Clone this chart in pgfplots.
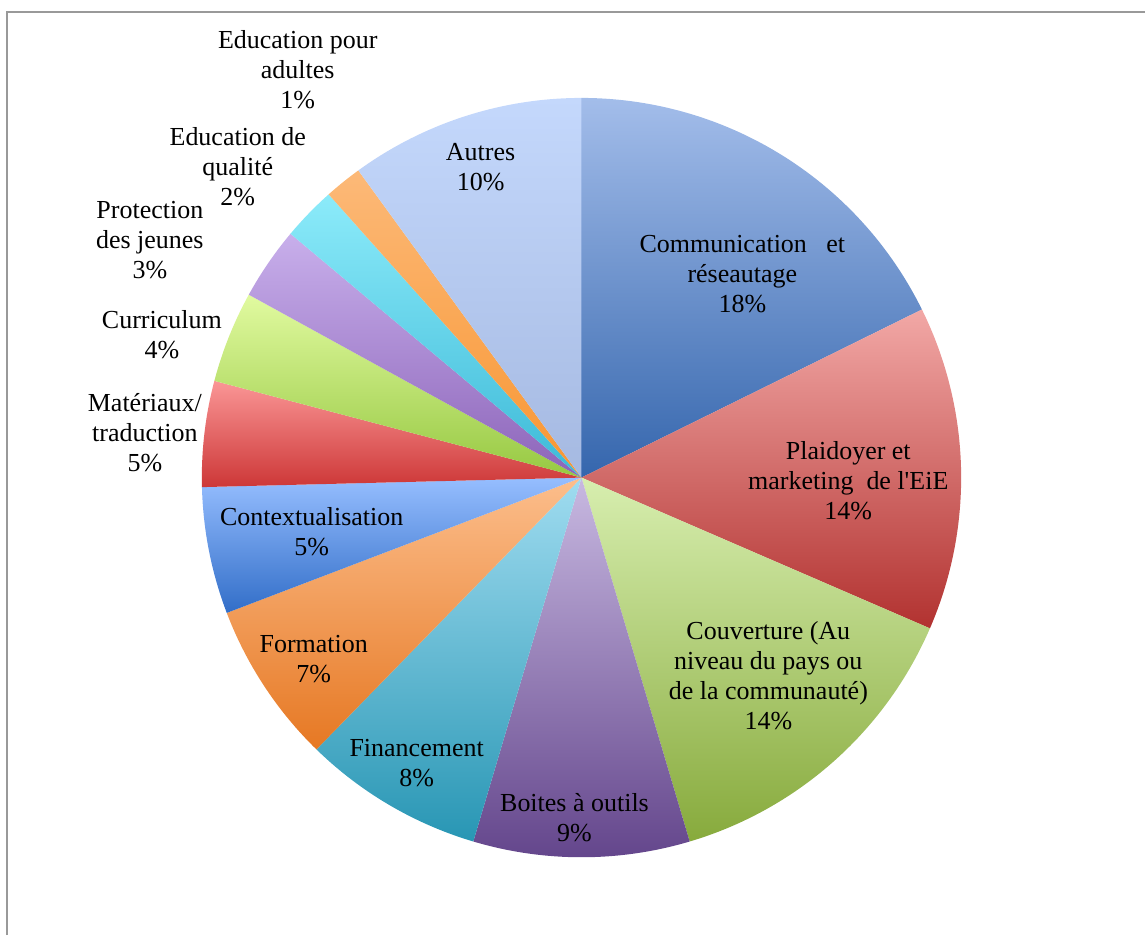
\documentclass[border=0pt]{standalone}
\usepackage{pgfplots}
\pgfplotsset{compat=1.18}
\usepackage{pgfplotstable}
\usepackage{fontspec}
\setmainfont{Liberation Serif}

% top (light) and bottom (dark) colours of each slice
\definecolor{t0}{HTML}{A3BDEA}\definecolor{b0}{HTML}{3566AD}
\definecolor{t1}{HTML}{F2A8A6}\definecolor{b1}{HTML}{B23230}
\definecolor{t2}{HTML}{D7EEAF}\definecolor{b2}{HTML}{87AA3C}
\definecolor{t3}{HTML}{C8B9E1}\definecolor{b3}{HTML}{64468C}
\definecolor{t4}{HTML}{A0DCF0}\definecolor{b4}{HTML}{2896B4}
\definecolor{t5}{HTML}{FCBE8C}\definecolor{b5}{HTML}{E67823}
\definecolor{t6}{HTML}{96BEFF}\definecolor{b6}{HTML}{326EC8}
\definecolor{t7}{HTML}{FA9696}\definecolor{b7}{HTML}{CD3737}
\definecolor{t8}{HTML}{E1FAA0}\definecolor{b8}{HTML}{96C841}
\definecolor{t9}{HTML}{C8AFEB}\definecolor{b9}{HTML}{8C64B9}
\definecolor{t10}{HTML}{8CEBFA}\definecolor{b10}{HTML}{3CB9D7}
\definecolor{t11}{HTML}{FCB978}\definecolor{b11}{HTML}{F89632}
\definecolor{t12}{HTML}{C4D8FC}\definecolor{b12}{HTML}{A5B9E1}

% share of each slice (percent), clockwise from 12 o'clock
\pgfplotstableread[col sep=comma]{
name,value
Communication et reseautage,17.7
Plaidoyer et marketing,13.8
Couverture,13.9
Boites a outils,9.2
Financement,7.7
Formation,6.9
Contextualisation,5.4
Materiaux traduction,4.5
Curriculum,3.9
Protection des jeunes,3.1
Education de qualite,2.3
Education pour adultes,1.6
Autres,10.0
}\piedata

\begin{document}
\begin{tikzpicture}
\begin{axis}[
  scale only axis, width=573pt, height=468pt,
  xmin=0, xmax=1146, ymin=0, ymax=936, y dir=reverse,
  hide axis, clip=false,
]
\path (rel axis cs:0,0) rectangle (rel axis cs:1,1);
\def\cum{0}
\pgfplotsforeachungrouped \i in {0,...,12}{%
  \pgfplotstablegetelem{\i}{value}\of\piedata
  \let\v\pgfplotsretval
  \pgfmathsetmacro\a{\cum*3.6}%
  \pgfmathsetmacro\b{(\cum+\v)*3.6}%
  \pgfmathsetmacro\newcum{\cum+\v}%
  \global\let\cum\newcum
  \edef\tmp{\noexpand\addplot[draw=none, top color=t\i, bottom color=b\i,
     domain=\a:\b, samples=80, variable=\noexpand\t]
     ({582+380*sin(\noexpand\t)},{478-380*cos(\noexpand\t)}) -- (axis cs:582,478) -- cycle;}%
  \tmp
}
% frame
\draw[gray!80, line width=1pt] (axis cs:7,936) -- (axis cs:7,12) -- (axis cs:1146,12);
% labels
\tikzset{lab/.style={align=center, font=\fontsize{13}{15}\selectfont, text=black, inner sep=0pt}}
\node[lab] at (axis cs:743,274) {Communication\ \ \ et\\réseautage\\18\%};
\node[lab] at (axis cs:849,481) {Plaidoyer et\\marketing\ \ de l\textquotesingle EiE\\14\%};
\node[lab] at (axis cs:769,676) {Couverture (Au\\niveau du pays ou\\de la communauté)\\14\%};
\node[lab] at (axis cs:575,818) {Boites à outils\\9\%};
\node[lab] at (axis cs:417,764) {Financement\\8\%};
\node[lab] at (axis cs:314,660) {Formation\\7\%};
\node[lab] at (axis cs:312,532) {Contextualisation\\5\%};
\node[lab] at (axis cs:145,433) {Matériaux/\\traduction\\5\%};
\node[lab] at (axis cs:162,335) {Curriculum\\4\%};
\node[lab] at (axis cs:150,240) {Protection\\des jeunes\\3\%};
\node[lab] at (axis cs:238,167) {Education de\\qualité\\2\%};
\node[lab] at (axis cs:298,70) {Education pour\\adultes\\1\%};
\node[lab] at (axis cs:481,167) {Autres\\10\%};
\end{axis}
\end{tikzpicture}
\end{document}
